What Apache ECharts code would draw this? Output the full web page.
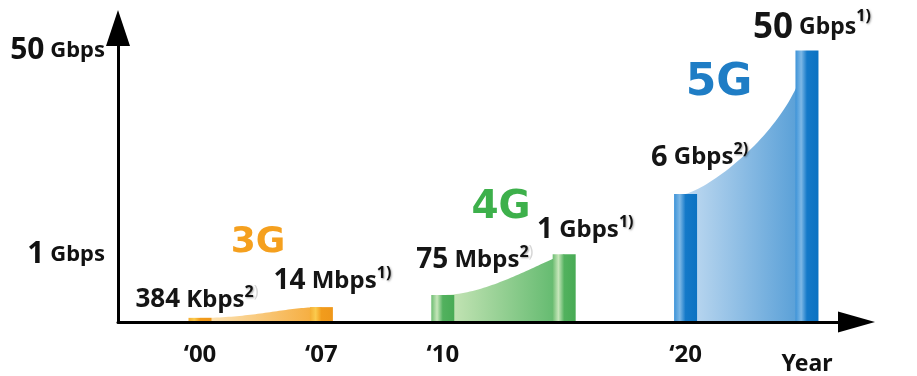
<!DOCTYPE html>
<html>
<head>
<meta charset="utf-8">
<script src="https://cdn.jsdelivr.net/npm/echarts@6/dist/echarts.min.js"></script>
<style>
  html, body { margin: 0; padding: 0; background: #ffffff; }
  #chart { width: 917px; height: 376px; }
</style>
</head>
<body>
<div id="chart"></div>
<script>
// Peak data rate at the start and end of each mobile generation
const milestones  = ['‘00', '‘07', '‘10', '', '‘20', ''];
const generation  = ['3G', '3G', '4G', '4G', '5G', '5G'];
const rateMbps    = [0.384, 14, 75, 1000, 6000, 50000];
const rateNumber  = ['384', '14', '75', '1', '6', '50'];
const rateUnit    = ['Kbps', 'Mbps', 'Mbps', 'Gbps', 'Gbps', 'Gbps'];
const rateNote    = ['2', '1', '2', '1', '2', '1'];

// Generation spans: index of first and last milestone
const genNames = ['3G', '4G', '5G'];
const genSpans = [[0, 1], [2, 3], [4, 5]];

// Y axis ticks
const yTickMbps   = [1000, 50000];
const yTickNumber = ['1', '50'];
const yTickUnit   = ['Gbps', 'Gbps'];

// ---- presentation ----
const FONT = '"Noto Sans", "DejaVu Sans", sans-serif';
const GEN_FONT = '"DejaVu Sans", "Noto Sans", sans-serif';
const Y_EXP = 0.355;                       // power scale used for the rate axis
const scale = v => Math.pow(v, Y_EXP);
const Y_MAX_MBPS = 62500;
const X_MIN = -0.6755, X_MAX = 5.408;

const GEN_STYLE = {
  '3G': { text: '#F5A01E', bar: ['#F4AE33', '#FBCB4E', '#F29C1C', '#EF971A'],
          area: ['#FCE7BE', '#F5A936'], curve: [0.45, 0.0, 0.7, 1.0],
          label: { x: 258, y: 243, size: 36 } },
  '4G': { text: '#3DB04B', bar: ['#6DBD72', '#C6E6BA', '#52B15E', '#48AB55'],
          area: ['#CBE7BA', '#5CB76A'], curve: [0.35, 0.0, 0.75, 0.72],
          label: { x: 501, y: 208, size: 39 } },
  '5G': { text: '#1F7DC5', bar: ['#3D93D8', '#7DB8E6', '#1479C8', '#0B72C2'],
          area: ['#C0DAF1', '#519BD5'], curve: [0.3, 0.08, 0.95, 0.55],
          label: { x: 719, y: 84, size: 44 } }
};

// Label layout for each rate annotation
const LABEL_OFFSET = [[-3, -3], [11, -10], [32, -19], [21, -8], [14, -20], [5, -3]];
const LABEL_NUM_SIZE  = [26, 28, 28, 28, 29, 35];
const LABEL_UNIT_SIZE = [24, 24, 24, 24, 24, 23];
const NOTE_PAREN_FAINT = [true, false, true, false, false, false];

const SUP_SHADOW = { textShadowColor: 'rgba(0,0,0,0.35)', textShadowBlur: 2,
                     textShadowOffsetX: 1, textShadowOffsetY: 1 };

function barGradient(g) {
  const c = GEN_STYLE[g].bar;
  return new echarts.graphic.LinearGradient(0, 0, 1, 0, [
    { offset: 0, color: c[0] }, { offset: 0.25, color: c[1] },
    { offset: 0.5, color: c[2] }, { offset: 1, color: c[3] }
  ]);
}

function rateLabel(i) {
  const lh = LABEL_NUM_SIZE[i] + 4;
  return {
    show: true,
    position: 'top',
    distance: 0,
    offset: LABEL_OFFSET[i],
    formatter: `{n|${rateNumber[i]}}{u| ${rateUnit[i]}}{s|${rateNote[i]}}{${NOTE_PAREN_FAINT[i] ? 'f' : 's'}|)}`,
    rich: {
      n: { fontFamily: FONT, fontWeight: 'bold', fontSize: LABEL_NUM_SIZE[i], lineHeight: lh, color: '#151515' },
      u: { fontFamily: FONT, fontWeight: 'bold', fontSize: LABEL_UNIT_SIZE[i], lineHeight: lh, color: '#151515' },
      s: Object.assign({ fontFamily: FONT, fontWeight: 'bold', fontSize: 16, lineHeight: 25,
                         verticalAlign: 'top', color: '#111' }, SUP_SHADOW),
      f: { fontFamily: FONT, fontSize: 16, lineHeight: 25, verticalAlign: 'top', color: '#d6d6d6' }
    }
  };
}

const barData = rateMbps.map((v, i) => ({
  value: [i, scale(v)],
  itemStyle: { color: barGradient(generation[i]) },
  label: rateLabel(i)
}));

const areaData = genSpans.map(([a, b]) => [a, b, scale(rateMbps[a]), scale(rateMbps[b])]);

function renderArea(params, api) {
  const a = api.value(0), b = api.value(1), va = api.value(2), vb = api.value(3);
  const p0 = api.coord([a, va]);
  const p1 = api.coord([b, vb]);
  const base = api.coord([a, 0])[1];
  const st = GEN_STYLE[genNames[params.dataIndex]];
  const [c1x, c1y, c2x, c2y] = st.curve;
  const dx = p1[0] - p0[0], dy = p1[1] - p0[1];
  const q1 = [p0[0] + c1x * dx, p0[1] + c1y * dy];
  const q2 = [p0[0] + c2x * dx, p0[1] + c2y * dy];
  const pts = [[p0[0], base]];
  const N = 48;
  for (let k = 0; k <= N; k++) {
    const t = k / N, u = 1 - t;
    pts.push([
      u * u * u * p0[0] + 3 * u * u * t * q1[0] + 3 * u * t * t * q2[0] + t * t * t * p1[0],
      u * u * u * p0[1] + 3 * u * u * t * q1[1] + 3 * u * t * t * q2[1] + t * t * t * p1[1]
    ]);
  }
  pts.push([p1[0], base]);
  return {
    type: 'polygon',
    shape: { points: pts },
    style: {
      fill: new echarts.graphic.LinearGradient(0, 0, 1, 0, [
        { offset: 0, color: st.area[0] }, { offset: 1, color: st.area[1] }
      ])
    }
  };
}

const chart = echarts.init(document.getElementById('chart'), null, { renderer: 'canvas' });

chart.setOption({
  animation: false,
  backgroundColor: '#ffffff',
  grid: { left: 118, right: 60.5, top: 28, bottom: 54, containLabel: false },
  xAxis: {
    type: 'value',
    min: X_MIN,
    max: X_MAX,
    z: 3,
    axisLine: {
      show: true, onZero: false,
      symbol: ['none', 'triangle'], symbolSize: [21, 37],
      lineStyle: { color: '#000', width: 3 }
    },
    axisTick: { show: false },
    splitLine: { show: false },
    axisLabel: {
      customValues: milestones.map((m, i) => m ? i : null).filter(v => v !== null),
      formatter: v => milestones[Math.round(v)],
      fontFamily: FONT, fontWeight: 'bold', fontSize: 24, color: '#111', margin: 21
    },
    name: 'Year',
    nameLocation: 'end',
    nameGap: -49.5,
    nameTextStyle: {
      fontFamily: FONT, fontWeight: 'bold', fontSize: 23, color: '#111',
      align: 'center', verticalAlign: 'top', padding: [31, 0, 0, 0]
    }
  },
  yAxis: {
    type: 'value',
    min: 0,
    max: scale(Y_MAX_MBPS),
    z: 3,
    axisLine: {
      show: true, onZero: false,
      symbol: ['none', 'triangle'], symbolSize: [24, 36],
      lineStyle: { color: '#000', width: 3 }
    },
    axisTick: { show: false },
    splitLine: { show: false },
    axisLabel: {
      customValues: yTickMbps.map(scale),
      formatter: v => {
        const k = yTickMbps.findIndex(m => Math.abs(scale(m) - v) < 1e-6);
        return k < 0 ? '' : `{n|${yTickNumber[k]}}{u| ${yTickUnit[k]}}`;
      },
      margin: 13,
      rich: {
        n: { fontFamily: FONT, fontWeight: 'bold', fontSize: 30, color: '#111' },
        u: { fontFamily: FONT, fontWeight: 'bold', fontSize: 22, color: '#111' }
      }
    }
  },
  graphic: genNames.map(g => ({
    type: 'text',
    x: GEN_STYLE[g].label.x,
    y: GEN_STYLE[g].label.y,
    style: {
      text: g,
      fill: GEN_STYLE[g].text,
      fontFamily: GEN_FONT,
      fontWeight: 'bold',
      fontSize: GEN_STYLE[g].label.size,
      align: 'center',
      verticalAlign: 'middle'
    }
  })),
  series: [
    {
      type: 'custom',
      z: 1,
      renderItem: renderArea,
      encode: { x: [0, 1], y: [2, 3] },
      data: areaData,
      silent: true
    },
    {
      type: 'bar',
      z: 2,
      barWidth: 23,
      data: barData
    }
  ]
});
</script>
</body>
</html>
